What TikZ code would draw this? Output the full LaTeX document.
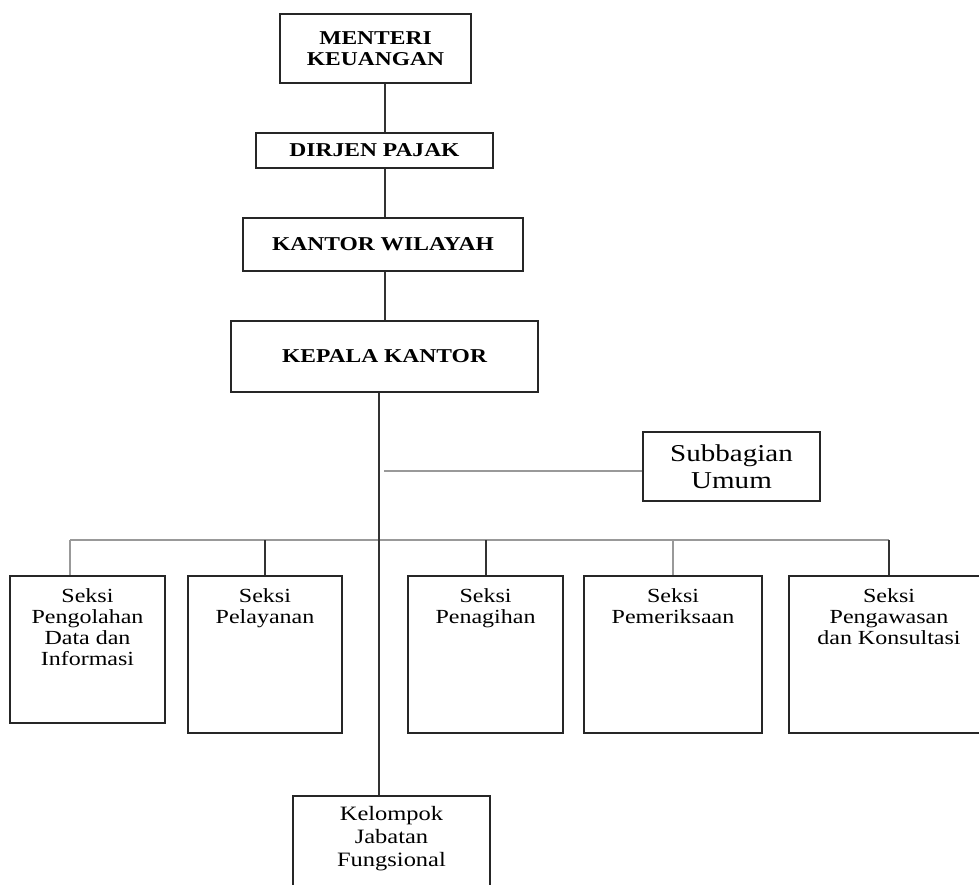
\documentclass[tikz,border=0pt]{standalone}
\usepackage{fontspec}
\setmainfont{Liberation Serif}[FakeStretch=1.2]
\begin{document}
\begin{tikzpicture}[x=0.5pt, y=-0.5pt,
    kotak/.style={draw=black!85, line width=1pt, inner sep=0pt},
    judul/.style={kotak, align=center, font=\bfseries\fontsize{9.8}{10.5}\selectfont},
    seksi/.style={kotak, minimum height=78.5pt, label={[anchor=north, align=center, inner sep=0pt, yshift=-6.5pt, font=\fontsize{10}{10.5}\selectfont]north:#1}},
    garis/.style={draw=black!80, line width=1pt},
    garisabu/.style={draw=black!40, line width=1.2pt}]
    \clip (0,0) rectangle (979,884);
    
    % Vẽ các hộp phía trên
    \node[judul, minimum width=95.5pt, minimum height=34.5pt] (menteri) at (375.5,48.5) {MENTERI\\KEUANGAN};
    \node[judul, minimum width=118.5pt, minimum height=17.5pt] (dirjen) at (374.5,150.5) {DIRJEN PAJAK};
    \node[judul, minimum width=140pt, minimum height=26.5pt] (wilayah) at (383,244.5) {KANTOR WILAYAH};
    \node[judul, minimum width=153.5pt, minimum height=35.5pt] (kepala) at (384.5,356.5) {KEPALA KANTOR};
    \node[kotak, align=center, font=\fontsize{12.1}{13.5}\selectfont, minimum width=88.5pt, minimum height=34.5pt] (subbag) at (731.5,466.5) {Subbagian\\Umum};
    
    % Vẽ các hộp seksi
    \node[seksi={Seksi\\Pengolahan\\Data dan\\Informasi}, minimum width=77.5pt, minimum height=73.5pt] (pengolahan) at (87.5,649.5) {};
    \node[seksi={Seksi\\Pelayanan}, minimum width=77pt] (pelayanan) at (265,654.5) {};
    \node[seksi={Seksi\\Penagihan}, minimum width=77.5pt] (penagihan) at (485.5,654.5) {};
    \node[seksi={Seksi\\Pemeriksaan}, minimum width=89pt] (pemeriksaan) at (673,654.5) {};
    \node[seksi={Seksi\\Pengawasan\\dan Konsultasi}, minimum width=100pt] (pengawasan) at (889,654.5) {};
    \node[kotak, minimum width=98.5pt, minimum height=52pt, label={[anchor=north, align=center, inner sep=0pt, yshift=-5.5pt, font=\fontsize{10.2}{11.5}\selectfont]north:Kelompok\\Jabatan\\Fungsional}] (kelompok) at (391.5,848) {};
    
    % Vẽ các đường nối
    \draw[garis] (menteri.south -| kepala) -- (dirjen.north -| kepala);
    \draw[garis] (dirjen.south -| kepala) -- (wilayah.north -| kepala);
    \draw[garis] (wilayah.south -| kepala) -- (kepala.north);
    \coordinate (tulang) at (379,540);
    \coordinate (kiri) at (70,540);
    \coordinate (cabang) at (384,471);
    \draw[garisabu] (cabang) -- (cabang -| subbag.west);
    \draw[garisabu] (kiri) -- (tulang -| pengawasan.north);
    \draw[garisabu] (kiri) -- (kiri |- pengolahan.north);
    \draw[garis] (tulang -| pelayanan.north) -- (pelayanan.north);
    \draw[garis] (tulang -| penagihan.north) -- (penagihan.north);
    \draw[garisabu] (tulang -| pemeriksaan.north) -- (pemeriksaan.north);
    \draw[garis] (tulang -| pengawasan.north) -- (pengawasan.north);
    \draw[garis] (kepala.south -| tulang) -- (kelompok.north -| tulang);
\end{tikzpicture}
\end{document}
